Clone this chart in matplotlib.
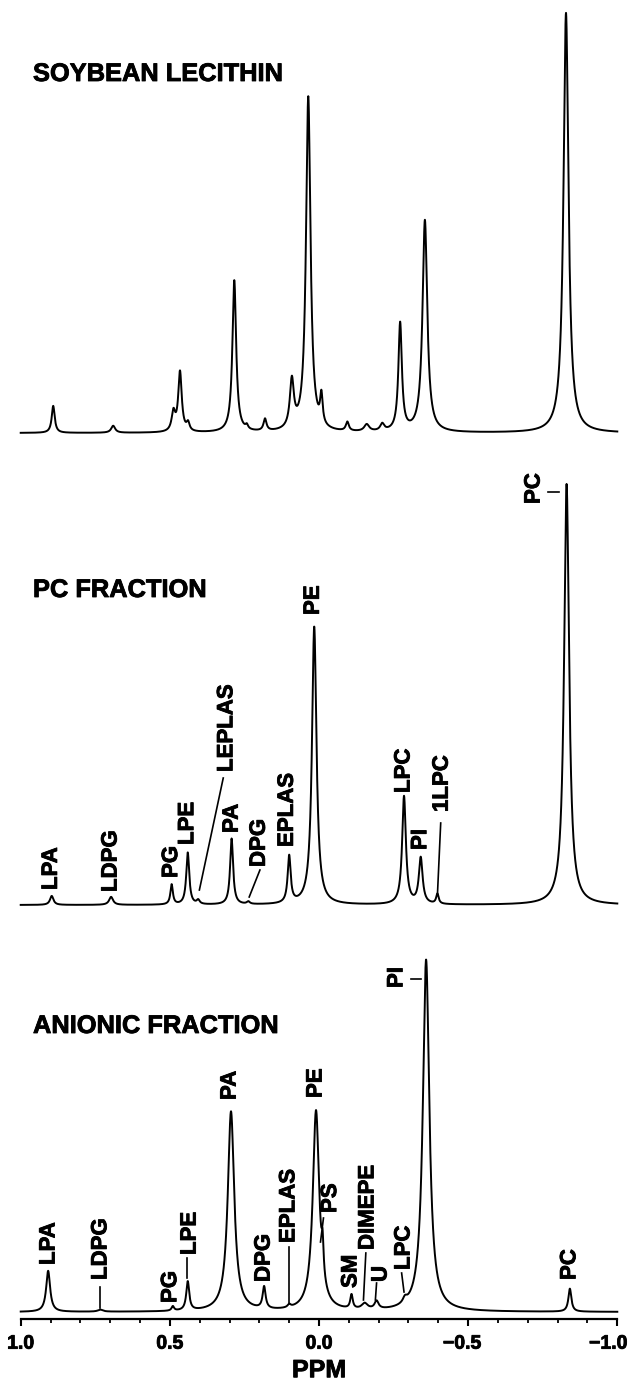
import numpy as np
import matplotlib
matplotlib.use("Agg")
import matplotlib.pyplot as plt
import matplotlib.patheffects as pe
from matplotlib.transforms import ScaledTranslation

plt.rcParams["font.family"] = ["Liberation Sans", "DejaVu Sans"]
plt.rcParams["font.weight"] = "bold"

W, H = 634, 1380
X_LEFT, X_RIGHT = 20.7, 617.3   # pixel columns of +1.0 and -1.0 ppm
HEAVY = [pe.withStroke(linewidth=0.6, foreground="black")]

# ---- soybean lecithin: shift (ppm), height, half width (ppm)
soy_shift = [0.891, 0.690, 0.488, 0.466, 0.439, 0.284, 0.242, 0.181, 0.091,
             0.036, -0.008, -0.095, -0.160, -0.212, -0.272, -0.355, -0.828]
soy_height = [27, 7, 19, 60, 8, 152, 4, 12, 48, 335, 29, 9, 7, 7, 108, 212, 420]
soy_width = [0.006, 0.008, 0.007, 0.007, 0.006, 0.0075, 0.005, 0.006, 0.008,
             0.009, 0.005, 0.006, 0.010, 0.008, 0.007, 0.0095, 0.010]

# ---- PC fraction
pc_names = ["LPA", "LDPG", "PG", "LPE", "LEPLAS", "PA", "DPG", "EPLAS", "PE",
            "LPC", "PI", "1LPC", "PC"]
pc_shift = [0.896, 0.697, 0.494, 0.440, 0.405, 0.293, 0.237, 0.100, 0.016,
            -0.285, -0.341, -0.397, -0.830]
pc_height = [9, 8, 20, 52, 4, 66, 2.5, 47, 278, 108, 46, 10, 421]
pc_width = [0.007, 0.008, 0.005, 0.006, 0.006, 0.006, 0.006, 0.006, 0.009,
            0.0075, 0.0075, 0.005, 0.010]

# ---- anionic fraction
an_names = ["LPA", "LDPG", "PG", "LPE", "PA", "DPG", "EPLAS", "PE", "PS", "SM",
            "DIMEPE", "U", "LPC", "PI", "PC"]
an_shift = [0.908, 0.733, 0.490, 0.440, 0.295, 0.184, 0.100, 0.010, -0.012,
            -0.109, -0.153, -0.193, -0.288, -0.359, -0.841]
an_height = [41, 2, 4.5, 29, 200, 22, 3, 200, 30, 14, 6, 8, 5, 352, 23]
an_width = [0.008, 0.010, 0.005, 0.006, 0.013, 0.006, 0.006, 0.013, 0.004,
            0.005, 0.012, 0.008, 0.008, 0.013, 0.006]

tick_values = [1.0, 0.5, 0.0, -0.5, -1.0]
tick_labels = ["1.0", "0.5", "0.0", "\u22120.5", "\u22121.0"]

# label placement (ppm of label centre, height of label foot)
pc_label_pos = [(0.897, 15), (0.697, 13), (0.494, 27), (0.440, 60), (0.309, 133),
                (0.291, 72), (0.200, 38), (0.106, 58), (0.019, 290), (-0.285, 112),
                (-0.341, 55), (-0.413, 93), (-0.721, 401)]
pc_leaders = [((0.321, 127), (0.401, 15)), ((0.198, 35), (0.234, 8)),
              ((-0.408, 82), (-0.397, 10)), ((-0.767, 413), (-0.804, 413))]
an_label_pos = [(0.905, 47), (0.731, 32), (0.497, 9), (0.432, 57), (0.298, 212),
                (0.184, 30), (0.101, 69), (0.010, 214), (-0.039, 99), (-0.107, 24),
                (-0.164, 62), (-0.208, 30), (-0.285, 42), (-0.261, 324), (-0.841, 32)]
an_leaders = [((0.733, 25), (0.733, 4)), ((0.441, 54), (0.441, 34)),
              ((0.101, 65), (0.101, 9)), ((-0.015, 94), (-0.005, 70)),
              ((-0.157, 59), (-0.149, 12)), ((-0.193, 29), (-0.189, 12)),
              ((-0.277, 39), (-0.285, 20)), ((-0.308, 333), (-0.342, 333))]

ppm = np.linspace(1.0, -1.0, 6001)


def spectrum(shift, height, width):
    total = np.zeros_like(ppm)
    for c, h, g in zip(shift, height, width):
        total += h / (1.0 + ((ppm - c) / g) ** 2)
    return total


def add_panel(fig, base_px, top_px, bottom_px):
    ax = fig.add_axes([X_LEFT / W, 1 - bottom_px / H,
                       (X_RIGHT - X_LEFT) / W, (bottom_px - top_px) / H])
    ax.set_xlim(1.0, -1.0)
    ax.set_ylim(base_px - bottom_px, base_px - top_px)
    for s in ax.spines.values():
        s.set_visible(False)
    ax.set_yticks([])
    ax.set_xticks([])
    ax.patch.set_alpha(0)
    return ax


def draw(ax, shift, height, width):
    ax.plot(ppm, spectrum(shift, height, width), color="black", lw=1.4,
            clip_on=False, solid_joinstyle="round")


def labels(ax, names, pos, leaders):
    for name, (x, y) in zip(names, pos):
        ax.text(x, y, name, rotation=90, ha="center", va="bottom",
                fontsize=16, fontweight="bold", path_effects=HEAVY)
    for (x0, y0), (x1, y1) in leaders:
        ax.plot([x0, x1], [y0, y1], color="black", lw=1.2, clip_on=False)


fig = plt.figure(figsize=(W / 100, H / 100), dpi=100)

ax1 = add_panel(fig, 433, 0, 445)
draw(ax1, soy_shift, soy_height, soy_width)

ax2 = add_panel(fig, 905, 450, 915)
draw(ax2, pc_shift, pc_height, pc_width)
labels(ax2, pc_names, pc_label_pos, pc_leaders)

ax3 = add_panel(fig, 1312, 940, 1319)
draw(ax3, an_shift, an_height, an_width)
labels(ax3, an_names, an_label_pos, an_leaders)

ax3.spines["bottom"].set_visible(True)
ax3.spines["bottom"].set_linewidth(1.6)
ax3.set_xticks(tick_values)
ax3.set_xticklabels(tick_labels, fontsize=14, fontweight="bold")
ax3.set_xticks(np.arange(-1.0, 1.01, 0.1), minor=True)
ax3.tick_params(axis="x", which="major", direction="out", length=5, width=1.5, pad=7)
ax3.tick_params(axis="x", which="minor", direction="out", length=3, width=1.3)
ax3.set_xlabel("PPM", fontsize=18, fontweight="bold", labelpad=4,
               path_effects=HEAVY)

# negative labels sit a little left of their ticks, as in the print
for lbl, shift_px in zip(ax3.get_xticklabels(), [0, 0, 0, -6, -9]):
    lbl.set_path_effects(HEAVY)
    lbl.set_transform(lbl.get_transform() +
                      ScaledTranslation(shift_px / 100, 0, fig.dpi_scale_trans))

for title, y in [("SOYBEAN LECITHIN", 81), ("PC FRACTION", 597), ("ANIONIC FRACTION", 1033)]:
    fig.text(33 / W, 1 - y / H, title, fontsize=18.3, fontweight="bold",
             ha="left", va="baseline", path_effects=HEAVY)

fig.savefig("out.png", dpi=100)
